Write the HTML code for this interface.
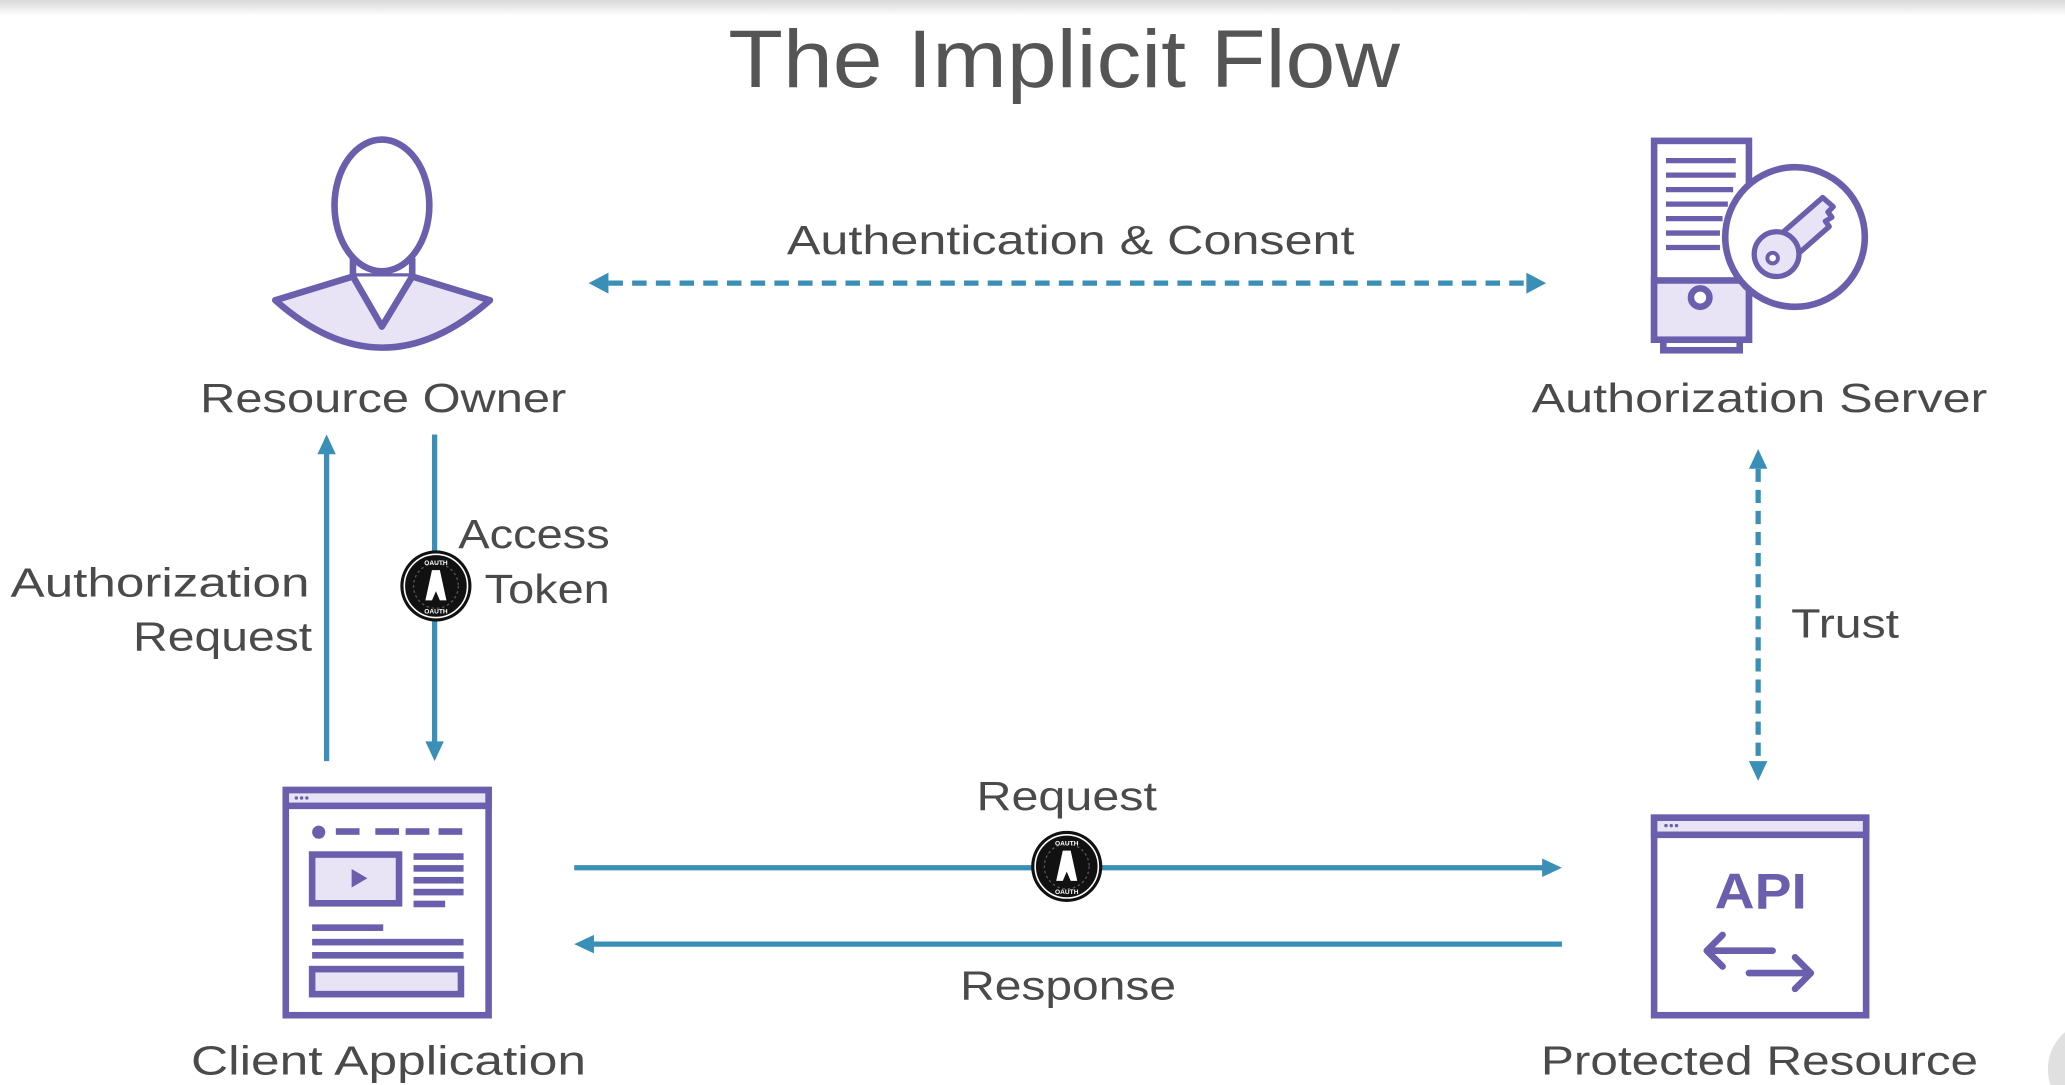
<!DOCTYPE html>
<html><head><meta charset="utf-8"><style>
html,body{margin:0;padding:0;background:#fff;overflow:hidden}
svg{display:block}
text{font-family:"Liberation Sans",sans-serif;fill:#4a4a4a}
</style></head><body>
<svg width="2065" height="1085" viewBox="0 0 1568 824" preserveAspectRatio="none" xmlns="http://www.w3.org/2000/svg">
<defs>
<linearGradient id="tg" x1="0" y1="0" x2="0" y2="1"><stop offset="0" stop-color="#d8d8d8"/><stop offset="1" stop-color="#fff"/></linearGradient>
<g id="tok">
<circle r="27" fill="#111"/>
<circle r="24" fill="none" stroke="#fff" stroke-width="1.2"/>
<circle r="17" fill="none" stroke="#555" stroke-width="1" stroke-dasharray="2 2"/>
<path d="M-8 11 L-3 -12 L3 -12 L8 11 L3 11 L0 4 L-3 11Z" fill="#fff"/>
<text x="0" y="-16" font-size="5" text-anchor="middle" style="fill:#fff;font-weight:bold">OAUTH</text>
<text x="0" y="21" font-size="5" text-anchor="middle" style="fill:#fff;font-weight:bold">OAUTH</text>
</g>
</defs>
<rect x="0" y="0" width="1568" height="12" fill="url(#tg)"/>
<circle cx="1592" cy="812" r="37" fill="#e0e0e0"/>

<text x="808" y="66" font-size="62" text-anchor="middle" textLength="510" lengthAdjust="spacingAndGlyphs" style="fill:#555">The Implicit Flow</text>

<!-- person -->
<g stroke="#6a5fad" stroke-width="5" stroke-linejoin="round">
<path d="M209 228 L268 210 L313 210 L372 228 Q290 300 209 228Z" fill="#e8e4f5"/>
<path d="M268 210 L268 196 M313 210 L313 196" fill="none"/>
<path d="M268 210 L290 248 L313 210" fill="#fff"/>
<ellipse cx="290" cy="156" rx="36" ry="50" fill="#fff"/>
</g>
<text x="291" y="313" font-size="31" text-anchor="middle" textLength="278" lengthAdjust="spacingAndGlyphs">Resource Owner</text>

<!-- auth & consent -->
<line x1="462" y1="215" x2="1160" y2="215" stroke="#3a8fb7" stroke-width="4" stroke-dasharray="11 7"/>
<path d="M447 215 L462 207 L462 223Z" fill="#3a8fb7"/>
<path d="M1174 215 L1159 207 L1159 223Z" fill="#3a8fb7"/>
<text x="813" y="193" font-size="31" text-anchor="middle" textLength="431" lengthAdjust="spacingAndGlyphs">Authentication &amp; Consent</text>

<!-- server -->
<g stroke="#6a5fad" stroke-width="5">
<rect x="1263" y="258" width="58" height="8" fill="#fff"/>
<rect x="1256" y="107" width="72" height="151" fill="#fff"/>
<rect x="1256" y="213" width="72" height="45" fill="#e8e4f5"/>
<circle cx="1291" cy="226" r="7" fill="#fff"/>
<g stroke-width="4"><line x1="1265" y1="122" x2="1318" y2="122"/><line x1="1265" y1="133" x2="1318" y2="133"/><line x1="1265" y1="144" x2="1316" y2="144"/><line x1="1265" y1="155" x2="1312" y2="155"/><line x1="1265" y1="166" x2="1308" y2="166"/><line x1="1265" y1="177" x2="1306" y2="177"/><line x1="1265" y1="188" x2="1306" y2="188"/></g>
<circle cx="1363" cy="180" r="53" fill="#fff"/>
<path d="M1352 178 L1384 150 L1392 157 L1388 161 L1391 165 L1386 168 L1389 172 L1364 194" fill="#e8e4f5" stroke-width="4" stroke-linejoin="round"/>
<circle cx="1349" cy="193" r="17" fill="#e8e4f5" stroke-width="4"/>
<circle cx="1346" cy="196" r="4" fill="#fff" stroke-width="3"/>
</g>
<text x="1336" y="313" font-size="31" text-anchor="middle" textLength="346" lengthAdjust="spacingAndGlyphs">Authorization Server</text>

<!-- vertical arrows -->
<line x1="248" y1="578" x2="248" y2="344" stroke="#3a8fb7" stroke-width="4"/>
<path d="M248 330 L241 345 L255 345Z" fill="#3a8fb7"/>
<line x1="330" y1="330" x2="330" y2="565" stroke="#3a8fb7" stroke-width="4"/>
<path d="M330 578 L323 563 L337 563Z" fill="#3a8fb7"/>
<use href="#tok" x="331" y="445"/>
<text x="348" y="416" font-size="31" textLength="115" lengthAdjust="spacingAndGlyphs">Access</text>
<text x="368" y="458" font-size="31" textLength="95" lengthAdjust="spacingAndGlyphs">Token</text>
<text x="235" y="453" font-size="31" text-anchor="end" textLength="227" lengthAdjust="spacingAndGlyphs">Authorization</text>
<text x="237" y="494" font-size="31" text-anchor="end" textLength="136" lengthAdjust="spacingAndGlyphs">Request</text>

<!-- trust -->
<line x1="1335" y1="356" x2="1335" y2="580" stroke="#3a8fb7" stroke-width="4" stroke-dasharray="10 6"/>
<path d="M1335 341 L1328 356 L1342 356Z" fill="#3a8fb7"/>
<path d="M1335 593 L1328 578 L1342 578Z" fill="#3a8fb7"/>
<text x="1360" y="484" font-size="31" textLength="82" lengthAdjust="spacingAndGlyphs">Trust</text>

<!-- client app -->
<g stroke="#6a5fad" stroke-width="5">
<rect x="217" y="600" width="154" height="171" fill="#fff"/>
<rect x="217" y="600" width="154" height="12" fill="#e8e4f5"/>
<rect x="237" y="649" width="66" height="37" fill="#e8e4f5"/>
<rect x="237" y="736" width="113" height="19" fill="#e8e4f5"/>
</g>
<g fill="#6a5fad">
<circle cx="242" cy="632" r="5"/>
<rect x="255" y="629" width="18" height="5"/><rect x="285" y="629" width="18" height="5"/><rect x="308" y="629" width="18" height="5"/><rect x="333" y="629" width="18" height="5"/>
<path d="M267 660 L279 667 L267 674Z"/>
<rect x="314" y="648" width="38" height="5"/><rect x="314" y="657" width="38" height="5"/><rect x="314" y="666" width="38" height="5"/><rect x="314" y="675" width="38" height="5"/><rect x="314" y="684" width="24" height="5"/>
<rect x="237" y="702" width="54" height="5"/><rect x="237" y="713" width="115" height="5"/><rect x="237" y="723" width="115" height="5"/>
<circle cx="225" cy="606" r="1.3"/><circle cx="229" cy="606" r="1.3"/><circle cx="233" cy="606" r="1.3"/>
</g>
<text x="295" y="816" font-size="31" text-anchor="middle" textLength="300" lengthAdjust="spacingAndGlyphs">Client Application</text>

<!-- API -->
<g stroke="#6a5fad" stroke-width="5">
<rect x="1256" y="621" width="161" height="150" fill="#fff"/>
<rect x="1256" y="621" width="161" height="13" fill="#e8e4f5"/>
</g>
<g fill="#6a5fad"><circle cx="1265" cy="627" r="1.3"/><circle cx="1269" cy="627" r="1.3"/><circle cx="1273" cy="627" r="1.3"/></g>
<text x="1337" y="690" font-size="38" text-anchor="middle" textLength="70" lengthAdjust="spacingAndGlyphs" style="fill:#6a5fad;font-weight:bold">API</text>
<g stroke="#6a5fad" stroke-width="5" fill="none" stroke-linecap="round" stroke-linejoin="round">
<path d="M1296 722 L1346 722 M1308 710 L1296 722 L1308 734"/>
<path d="M1328 739 L1375 739 M1363 727 L1375 739 L1363 751"/>
</g>
<text x="1336" y="816" font-size="31" text-anchor="middle" textLength="332" lengthAdjust="spacingAndGlyphs">Protected Resource</text>

<!-- request/response -->
<line x1="436" y1="659" x2="1172" y2="659" stroke="#3a8fb7" stroke-width="4"/>
<path d="M1186 659 L1171 652 L1171 666Z" fill="#3a8fb7"/>
<line x1="450" y1="717" x2="1186" y2="717" stroke="#3a8fb7" stroke-width="4"/>
<path d="M436 717 L451 710 L451 724Z" fill="#3a8fb7"/>
<use href="#tok" x="810" y="658"/>
<text x="810" y="615" font-size="31" text-anchor="middle" textLength="137" lengthAdjust="spacingAndGlyphs">Request</text>
<text x="811" y="759" font-size="31" text-anchor="middle" textLength="164" lengthAdjust="spacingAndGlyphs">Response</text>
</svg>
</body></html>
